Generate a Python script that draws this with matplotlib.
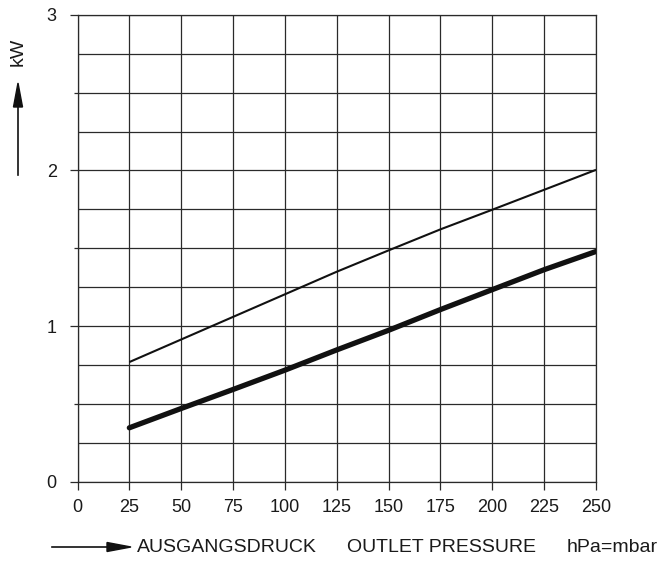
import matplotlib
matplotlib.use("Agg")
import matplotlib.pyplot as plt
from matplotlib.patches import Polygon
from matplotlib.lines import Line2D

plt.rcParams['font.family'] = ['Liberation Sans', 'DejaVu Sans']

# Data
pressure = [25, 50, 75, 100, 125, 150, 175, 200, 225, 250]
power_upper = [0.77, 0.915, 1.06, 1.205, 1.35, 1.487, 1.622, 1.748, 1.876, 2.004]
power_lower = [0.348, 0.472, 0.594, 0.718, 0.848, 0.974, 1.107, 1.235, 1.363, 1.48]
x_ticks = [0, 25, 50, 75, 100, 125, 150, 175, 200, 225, 250]
y_ticks = [0, 1, 2, 3]
y_minor = [0.5, 1.5, 2.5]
y_grid = [0.25 * i for i in range(13)]

W, H = 661, 563
fig = plt.figure(figsize=(W / 100, H / 100), dpi=100)
ax = fig.add_axes([77.5 / W, (H - 482) / H, (596 - 77.5) / W, (482 - 14.7) / H])

gc = '#2a2a2a'
for yv in y_grid:
    ax.axhline(yv, color=gc, lw=0.9, zorder=1)
for xv in x_ticks:
    ax.axvline(xv, color=gc, lw=0.9, zorder=1)

ax.plot(pressure, power_upper, color='#111111', lw=1.5, solid_capstyle='butt', zorder=3)
ax.plot(pressure, power_lower, color='#111111', lw=3.8, solid_capstyle='round', zorder=3)

ax.set_xlim(0, 250)
ax.set_ylim(0, 3)
ax.set_xticks(x_ticks)
ax.set_xticklabels([str(v) for v in x_ticks])
ax.set_yticks(y_ticks)
ax.set_yticklabels([str(v) for v in y_ticks])
ax.set_yticks(y_minor, minor=True)
ax.tick_params(axis='both', which='major', length=6, width=0.9, color=gc,
               labelsize=13, labelcolor='#1a1a1a')
ax.tick_params(axis='x', which='major', pad=6)
ax.tick_params(axis='y', which='major', pad=9)
ax.tick_params(axis='y', which='minor', length=3, width=0.9, color=gc)
for s in ax.spines.values():
    s.set_color(gc)
    s.set_linewidth(0.9)

# y-axis label with arrow
fig.text(18 / W, 1 - 52 / H, 'kW', rotation=90, ha='center', va='center',
         fontsize=14, color='#1a1a1a')
fig.add_artist(Line2D([18, 18], [H - 175, H - 100], color='#111111', lw=1.2, transform=None))
fig.add_artist(Polygon([[18, H - 83], [13.5, H - 107], [22.5, H - 107]], closed=True,
                       color='#111111', transform=None))

# x-axis label with arrow
ya = H - 547
fig.add_artist(Line2D([52, 110], [ya, ya], color='#111111', lw=1.2, transform=None))
fig.add_artist(Polygon([[131, ya], [107, ya + 4.5], [107, ya - 4.5]], closed=True,
                       color='#111111', transform=None))
fs = 14
fig.text(137 / W, 1 - 548 / H, 'AUSGANGSDRUCK', ha='left', va='center',
         fontsize=fs, color='#1a1a1a')
fig.text(347 / W, 1 - 548 / H, 'OUTLET PRESSURE', ha='left', va='center',
         fontsize=fs, color='#1a1a1a')
fig.text(658 / W, 1 - 548 / H, 'hPa=mbar', ha='right', va='center',
         fontsize=fs, color='#1a1a1a')

fig.savefig('out.png', dpi=100, facecolor='white')
